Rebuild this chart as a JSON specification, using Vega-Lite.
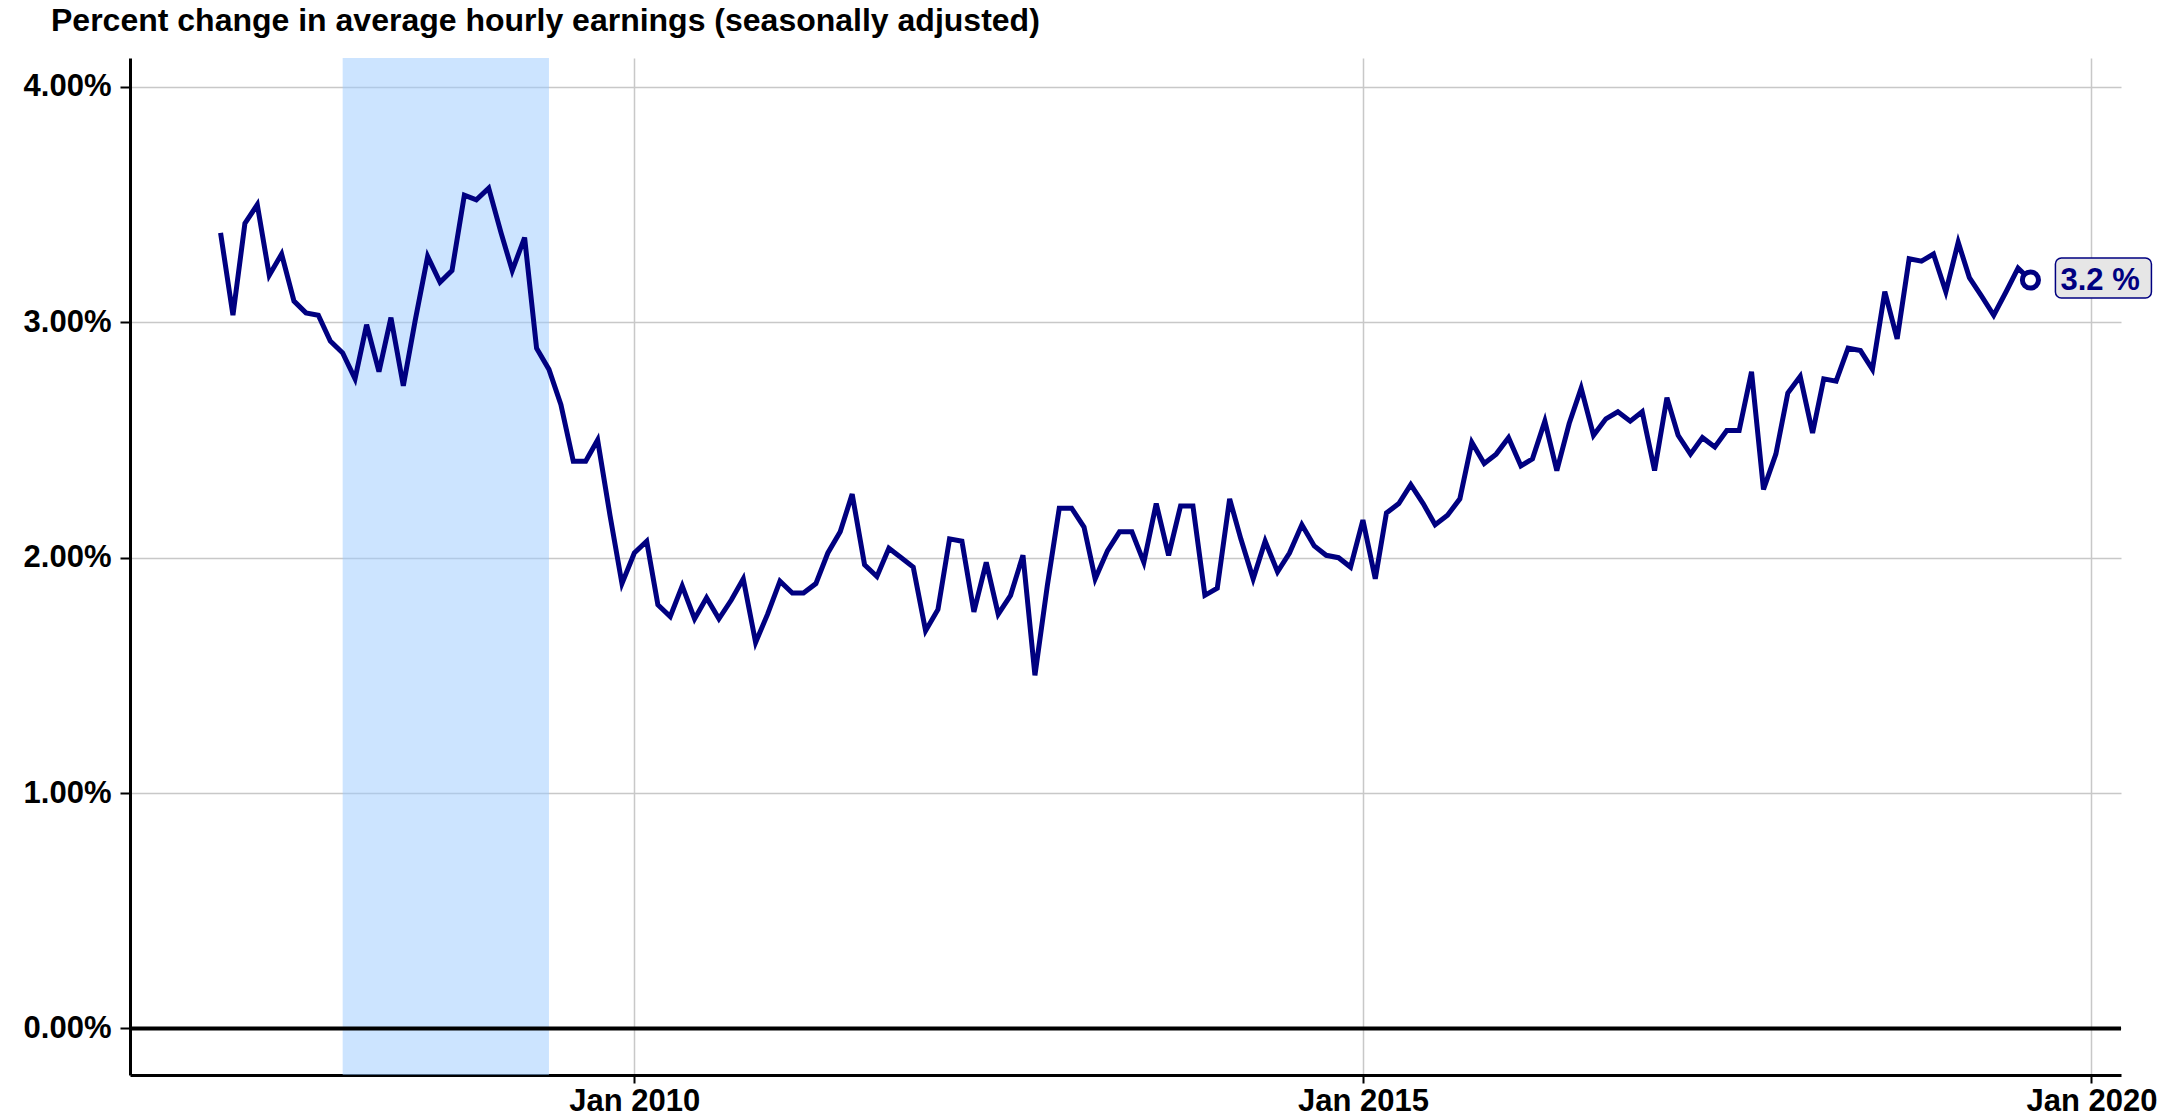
{
  "$schema": "https://vega.github.io/schema/vega-lite/v6.json",
  "width": 1991,
  "height": 1017,
  "autosize": {"type": "none"},
  "padding": {"left": 130, "top": 58, "right": 53, "bottom": 42},
  "background": "white",
  "title": {
    "text": "Percent change in average hourly earnings (seasonally adjusted)",
    "anchor": "start",
    "frame": "group",
    "dx": -79,
    "dy": 30,
    "offset": 25,
    "baseline": "alphabetic",
    "font": "Liberation Sans",
    "fontSize": 32,
    "fontWeight": "bold",
    "color": "#000000"
  },
  "config": {
    "view": {"stroke": null},
    "axis": {
      "labelFont": "Liberation Sans",
      "labelFontSize": 31,
      "labelFontWeight": "bold",
      "labelColor": "#000000",
      "gridColor": "#c8c8c8",
      "gridWidth": 1.5,
      "domainColor": "#000000",
      "domainWidth": 3,
      "tickColor": "#000000",
      "tickWidth": 2,
      "title": null
    }
  },
  "datasets": {
    "series": [
      {"d": "2007-03-01", "v": 3.38}, {"d": "2007-04-01", "v": 3.03}, {"d": "2007-05-01", "v": 3.42}, {"d": "2007-06-01", "v": 3.50},
      {"d": "2007-07-01", "v": 3.20}, {"d": "2007-08-01", "v": 3.29}, {"d": "2007-09-01", "v": 3.09}, {"d": "2007-10-01", "v": 3.04},
      {"d": "2007-11-01", "v": 3.03}, {"d": "2007-12-01", "v": 2.92}, {"d": "2008-01-01", "v": 2.87}, {"d": "2008-02-01", "v": 2.76},
      {"d": "2008-03-01", "v": 2.99}, {"d": "2008-04-01", "v": 2.79}, {"d": "2008-05-01", "v": 3.02}, {"d": "2008-06-01", "v": 2.73},
      {"d": "2008-07-01", "v": 3.01}, {"d": "2008-08-01", "v": 3.28}, {"d": "2008-09-01", "v": 3.17}, {"d": "2008-10-01", "v": 3.22},
      {"d": "2008-11-01", "v": 3.54}, {"d": "2008-12-01", "v": 3.52}, {"d": "2009-01-01", "v": 3.57}, {"d": "2009-02-01", "v": 3.38},
      {"d": "2009-03-01", "v": 3.22}, {"d": "2009-04-01", "v": 3.36}, {"d": "2009-05-01", "v": 2.89}, {"d": "2009-06-01", "v": 2.80},
      {"d": "2009-07-01", "v": 2.65}, {"d": "2009-08-01", "v": 2.41}, {"d": "2009-09-01", "v": 2.41}, {"d": "2009-10-01", "v": 2.50},
      {"d": "2009-11-01", "v": 2.18}, {"d": "2009-12-01", "v": 1.89}, {"d": "2010-01-01", "v": 2.02}, {"d": "2010-02-01", "v": 2.07},
      {"d": "2010-03-01", "v": 1.80}, {"d": "2010-04-01", "v": 1.75}, {"d": "2010-05-01", "v": 1.88}, {"d": "2010-06-01", "v": 1.74},
      {"d": "2010-07-01", "v": 1.83}, {"d": "2010-08-01", "v": 1.74}, {"d": "2010-09-01", "v": 1.82}, {"d": "2010-10-01", "v": 1.91},
      {"d": "2010-11-01", "v": 1.64}, {"d": "2010-12-01", "v": 1.76}, {"d": "2011-01-01", "v": 1.90}, {"d": "2011-02-01", "v": 1.85},
      {"d": "2011-03-01", "v": 1.85}, {"d": "2011-04-01", "v": 1.89}, {"d": "2011-05-01", "v": 2.02}, {"d": "2011-06-01", "v": 2.11},
      {"d": "2011-07-01", "v": 2.27}, {"d": "2011-08-01", "v": 1.97}, {"d": "2011-09-01", "v": 1.92}, {"d": "2011-10-01", "v": 2.04},
      {"d": "2011-11-01", "v": 2.00}, {"d": "2011-12-01", "v": 1.96}, {"d": "2012-01-01", "v": 1.69}, {"d": "2012-02-01", "v": 1.78},
      {"d": "2012-03-01", "v": 2.08}, {"d": "2012-04-01", "v": 2.07}, {"d": "2012-05-01", "v": 1.77}, {"d": "2012-06-01", "v": 1.98},
      {"d": "2012-07-01", "v": 1.76}, {"d": "2012-08-01", "v": 1.84}, {"d": "2012-09-01", "v": 2.01}, {"d": "2012-10-01", "v": 1.50},
      {"d": "2012-11-01", "v": 1.88}, {"d": "2012-12-01", "v": 2.21}, {"d": "2013-01-01", "v": 2.21}, {"d": "2013-02-01", "v": 2.13},
      {"d": "2013-03-01", "v": 1.91}, {"d": "2013-04-01", "v": 2.03}, {"d": "2013-05-01", "v": 2.11}, {"d": "2013-06-01", "v": 2.11},
      {"d": "2013-07-01", "v": 1.98}, {"d": "2013-08-01", "v": 2.23}, {"d": "2013-09-01", "v": 2.01}, {"d": "2013-10-01", "v": 2.22},
      {"d": "2013-11-01", "v": 2.22}, {"d": "2013-12-01", "v": 1.84}, {"d": "2014-01-01", "v": 1.87}, {"d": "2014-02-01", "v": 2.25},
      {"d": "2014-03-01", "v": 2.08}, {"d": "2014-04-01", "v": 1.91}, {"d": "2014-05-01", "v": 2.07}, {"d": "2014-06-01", "v": 1.94},
      {"d": "2014-07-01", "v": 2.02}, {"d": "2014-08-01", "v": 2.14}, {"d": "2014-09-01", "v": 2.05}, {"d": "2014-10-01", "v": 2.01},
      {"d": "2014-11-01", "v": 2.00}, {"d": "2014-12-01", "v": 1.96}, {"d": "2015-01-01", "v": 2.16}, {"d": "2015-02-01", "v": 1.91},
      {"d": "2015-03-01", "v": 2.19}, {"d": "2015-04-01", "v": 2.23}, {"d": "2015-05-01", "v": 2.31}, {"d": "2015-06-01", "v": 2.23},
      {"d": "2015-07-01", "v": 2.14}, {"d": "2015-08-01", "v": 2.18}, {"d": "2015-09-01", "v": 2.25}, {"d": "2015-10-01", "v": 2.49},
      {"d": "2015-11-01", "v": 2.40}, {"d": "2015-12-01", "v": 2.44}, {"d": "2016-01-01", "v": 2.51}, {"d": "2016-02-01", "v": 2.39},
      {"d": "2016-03-01", "v": 2.42}, {"d": "2016-04-01", "v": 2.58}, {"d": "2016-05-01", "v": 2.37}, {"d": "2016-06-01", "v": 2.57},
      {"d": "2016-07-01", "v": 2.72}, {"d": "2016-08-01", "v": 2.52}, {"d": "2016-09-01", "v": 2.59}, {"d": "2016-10-01", "v": 2.62},
      {"d": "2016-11-01", "v": 2.58}, {"d": "2016-12-01", "v": 2.62}, {"d": "2017-01-01", "v": 2.37}, {"d": "2017-02-01", "v": 2.68},
      {"d": "2017-03-01", "v": 2.52}, {"d": "2017-04-01", "v": 2.44}, {"d": "2017-05-01", "v": 2.51}, {"d": "2017-06-01", "v": 2.47},
      {"d": "2017-07-01", "v": 2.54}, {"d": "2017-08-01", "v": 2.54}, {"d": "2017-09-01", "v": 2.79}, {"d": "2017-10-01", "v": 2.29},
      {"d": "2017-11-01", "v": 2.44}, {"d": "2017-12-01", "v": 2.70}, {"d": "2018-01-01", "v": 2.77}, {"d": "2018-02-01", "v": 2.53},
      {"d": "2018-03-01", "v": 2.76}, {"d": "2018-04-01", "v": 2.75}, {"d": "2018-05-01", "v": 2.89}, {"d": "2018-06-01", "v": 2.88},
      {"d": "2018-07-01", "v": 2.80}, {"d": "2018-08-01", "v": 3.13}, {"d": "2018-09-01", "v": 2.93}, {"d": "2018-10-01", "v": 3.27},
      {"d": "2018-11-01", "v": 3.26}, {"d": "2018-12-01", "v": 3.29}, {"d": "2019-01-01", "v": 3.13}, {"d": "2019-02-01", "v": 3.34},
      {"d": "2019-03-01", "v": 3.19}, {"d": "2019-04-01", "v": 3.11}, {"d": "2019-05-01", "v": 3.03}, {"d": "2019-06-01", "v": 3.13},
      {"d": "2019-07-01", "v": 3.23}, {"d": "2019-08-01", "v": 3.18}
    ],
    "recession": [{"start": "2008-01-01", "end": "2009-06-01"}],
    "last": [{"d": "2019-08-01", "v": 3.18, "label": "3.2 %"}]
  },
  "layer": [
    {
      "data": {"name": "recession"},
      "mark": {"type": "rect", "color": "#99c9ff", "opacity": 0.5},
      "encoding": {
        "x": {"field": "start", "type": "temporal"},
        "x2": {"field": "end"}
      }
    },
    {
      "data": {"values": [{}]},
      "mark": {"type": "rule", "color": "#000000", "strokeWidth": 4},
      "encoding": {"y": {"datum": 0, "type": "quantitative"}}
    },
    {
      "data": {"name": "series"},
      "mark": {"type": "line", "color": "#000080", "strokeWidth": 5, "strokeJoin": "miter"},
      "encoding": {
        "x": {
          "field": "d",
          "type": "temporal",
          "scale": {
            "type": "utc",
            "domain": [
              {"year": 2006, "month": 7, "date": 17, "utc": true},
              {"year": 2020, "month": 3, "date": 15, "utc": true}
            ],
            "nice": false
          },
          "axis": {
            "values": [
              {"year": 2010, "month": 1, "date": 1, "utc": true},
              {"year": 2015, "month": 1, "date": 1, "utc": true},
              {"year": 2020, "month": 1, "date": 1, "utc": true}
            ],
            "format": "%b %Y",
            "grid": true,
            "tickSize": 8,
            "labelPadding": 3.5,
            "labelOverlap": false,
            "labelFlush": false
          }
        },
        "y": {
          "field": "v",
          "type": "quantitative",
          "scale": {"domain": [-0.198, 4.123], "nice": false, "zero": false},
          "axis": {
            "values": [0, 1, 2, 3, 4],
            "labelExpr": "format(datum.value, '.2f') + '%'",
            "grid": true,
            "tickSize": 10,
            "labelPadding": 9
          }
        }
      }
    },
    {
      "data": {"name": "last"},
      "mark": {"type": "point", "shape": "circle", "filled": true, "fill": "white", "stroke": "#000080", "strokeWidth": 5, "size": 260, "opacity": 1},
      "encoding": {
        "x": {"field": "d", "type": "temporal"},
        "y": {"field": "v", "type": "quantitative"}
      }
    },
    {
      "data": {"name": "last"},
      "mark": {"type": "rect", "fill": "#e6e6e6", "stroke": "#000080", "strokeWidth": 1.5, "cornerRadius": 6, "xOffset": 25, "x2Offset": 121, "yOffset": -22, "y2Offset": 18},
      "encoding": {
        "x": {"field": "d", "type": "temporal"},
        "x2": {"field": "d"},
        "y": {"field": "v", "type": "quantitative"},
        "y2": {"field": "v"}
      }
    },
    {
      "data": {"name": "last"},
      "mark": {"type": "text", "align": "left", "baseline": "middle", "dx": 30, "dy": 1, "font": "Liberation Sans", "fontSize": 31, "fontWeight": "bold", "color": "#000080"},
      "encoding": {
        "x": {"field": "d", "type": "temporal"},
        "y": {"field": "v", "type": "quantitative"},
        "text": {"field": "label"}
      }
    }
  ]
}
